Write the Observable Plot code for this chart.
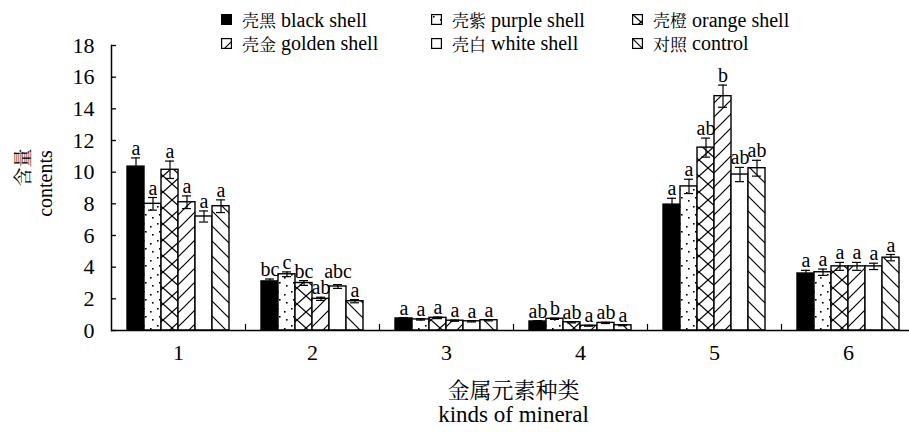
<!DOCTYPE html>
<html>
<head>
<meta charset="utf-8">
<script src="https://cdn.jsdelivr.net/npm/d3@7"></script>
<script src="https://cdn.jsdelivr.net/npm/@observablehq/plot@0.6"></script>
<style>
  html, body { margin: 0; padding: 0; background: #fff; overflow: hidden; }
  #wrap { position: relative; width: 909px; height: 432px; }
  #legend { position: absolute; left: 221px; top: 8px; display: grid;
            grid-template-columns: 210px 201px auto; grid-auto-rows: 23.5px; color: #000; }
  .item { display: flex; align-items: center; white-space: nowrap; line-height: 1; }
  .item svg { flex: none; margin-right: 10px; }
</style>
</head>
<body>
<div id="wrap">
  <div id="chart"></div>
  <div id="legend"></div>
</div>
<script>
// ---- data ----
const minerals = ["1", "2", "3", "4", "5", "6"];
const seriesKeys = ["black", "purple", "orange", "golden", "white", "control"];
const seriesCn = ["壳黑", "壳紫", "壳橙", "壳金", "壳白", "对照"];
const seriesEn = ["black shell", "purple shell", "orange shell", "golden shell", "white shell", "control"];
const seriesFill = ["#000", "url(#p-dots)", "url(#p-cross)", "url(#p-fwd)", "#fff", "url(#p-back)"];
const xTitleCn = "金属元素种类", xTitleEn = "kinds of mineral";
const yTitleCn = "含量", yTitleEn = "contents";

const blackVals   = [10.35, 3.10, 0.76, 0.57, 7.95, 3.60];
const purpleVals  = [8.00, 3.55, 0.70, 0.74, 9.10, 3.68];
const orangeVals  = [10.15, 3.00, 0.80, 0.52, 11.55, 4.05];
const goldenVals  = [8.10, 2.00, 0.62, 0.30, 14.80, 4.05];
const whiteVals   = [7.20, 2.78, 0.58, 0.48, 9.85, 4.05];
const controlVals = [7.85, 1.85, 0.65, 0.33, 10.25, 4.60];

const blackErr   = [0.55, 0.15, 0.05, 0.05, 0.40, 0.20];
const purpleErr  = [0.40, 0.15, 0.04, 0.04, 0.45, 0.20];
const orangeErr  = [0.55, 0.15, 0.05, 0.04, 0.60, 0.25];
const goldenErr  = [0.40, 0.10, 0.04, 0.03, 0.70, 0.25];
const whiteErr   = [0.35, 0.12, 0.04, 0.04, 0.45, 0.20];
const controlErr = [0.40, 0.10, 0.04, 0.03, 0.50, 0.20];

const blackSig   = ["a", "bc", "a", "ab", "a", "a"];
const purpleSig  = ["a", "c", "a", "b", "a", "a"];
const orangeSig  = ["a", "bc", "a", "ab", "ab", "a"];
const goldenSig  = ["a", "ab", "a", "a", "b", "a"];
const whiteSig   = ["a", "abc", "a", "ab", "ab", "a"];
const controlSig = ["a", "a", "a", "a", "ab", "a"];

const yTicks = [0, 2, 4, 6, 8, 10, 12, 14, 16, 18];

// ---- table ----
const vals = [blackVals, purpleVals, orangeVals, goldenVals, whiteVals, controlVals];
const errs = [blackErr, purpleErr, orangeErr, goldenErr, whiteErr, controlErr];
const sigs = [blackSig, purpleSig, orangeSig, goldenSig, whiteSig, controlSig];
const table = [];
seriesKeys.forEach((s, si) => minerals.forEach((m, mi) => {
  table.push({mineral: m, series: s, si, value: vals[si][mi], err: errs[si][mi], sig: sigs[si][mi]});
}));

const W = 909, H = 432, mL = 110, mR = -6, mT = 45, mB = 102;
const pxPerUnit = (H - mT - mB) / 18;
const stepPx = (W - mL - mR) / minerals.length / (seriesKeys.length + 1.5);
const sigFont = 20, charW = 0.45 * sigFont, textHUnits = 0.8 * sigFont / pxPerUnit;
minerals.forEach(m => {
  const row = table.filter(d => d.mineral === m).sort((a, b) => a.si - b.si);
  row.forEach((d, i) => {
    d.labelY = d.value + d.err;
    if (i > 0) {
      const p = row[i - 1];
      const gap = stepPx - (p.sig.length * charW + d.sig.length * charW) / 2;
      if (gap < -1 && Math.abs(d.labelY - p.labelY) < textHUnits) d.labelY = Math.max(d.labelY, p.labelY + textHUnits);
    }
  });
});

const barMarks = seriesKeys.map((s, si) =>
  Plot.barY(table.filter(d => d.series === s), {
    fx: "mineral", x: "series", y: "value",
    fill: seriesFill[si], stroke: "#000", strokeWidth: 1.4
  })
);

const serif = "'Liberation Serif', 'Times New Roman', serif";
const cjkSerif = "'Noto Serif CJK SC', 'Noto Sans CJK SC', serif";

const plot = Plot.plot({
  width: W,
  height: H,
  marginLeft: mL,
  marginRight: mR,
  marginTop: mT,
  marginBottom: mB,
  style: `font-family: ${serif}; color: #000; background: #fff;`,
  fx: {domain: minerals, padding: 0, label: null},
  x: {domain: seriesKeys, paddingInner: 0, paddingOuter: 0.75, axis: null},
  y: {domain: [0, 18], label: null},
  marks: [
    ...barMarks,
    Plot.ruleX(table, {fx: "mineral", x: "series", y1: d => d.value - d.err, y2: d => d.value + d.err, stroke: "#000", strokeWidth: 1.2}),
    Plot.tickY(table, {fx: "mineral", x: "series", y: d => d.value + d.err, insetLeft: 4, insetRight: 4, stroke: "#000", strokeWidth: 1.2}),
    Plot.tickY(table, {fx: "mineral", x: "series", y: d => d.value - d.err, insetLeft: 4, insetRight: 4, stroke: "#000", strokeWidth: 1.2}),
    Plot.text(table, {fx: "mineral", x: "series", y: "labelY", text: "sig", lineAnchor: "bottom", dy: -3, fontSize: sigFont, fill: "#000"}),
    Plot.ruleY([0], {stroke: "#000", strokeWidth: 1.5}),
    Plot.frame({anchor: "left", facetAnchor: "left", stroke: "#000", strokeWidth: 1.5}),
    Plot.frame({anchor: "right", insetTop: 279, stroke: "#000", strokeWidth: 1.2}),
    Plot.axisY({ticks: yTicks, tickSize: 5, dx: 5, fill: "none", stroke: "#000", strokeWidth: 1.3, label: null}),
    Plot.axisY({ticks: yTicks, tickSize: 0, tickPadding: 17, fontSize: 22, fill: "#000", label: null}),
    Plot.axisFx({anchor: "bottom", tickSize: 0, tickPadding: 14, fontSize: 22, fill: "#000", label: null})
  ]
});

const svg = d3.select(plot);
// hatch patterns used as bar fills, defined inside the chart's own SVG
const defs = svg.insert("defs", ":first-child");
function pattern(id, w, h, draw) {
  const p = defs.append("pattern").attr("id", id).attr("patternUnits", "userSpaceOnUse").attr("width", w).attr("height", h);
  p.append("rect").attr("width", w).attr("height", h).attr("fill", "#fff");
  draw(p);
}
pattern("p-dots", 14, 17, p => [[2, 2], [9, 5], [4, 10], [11, 13]].forEach(([x, y]) =>
  p.append("rect").attr("x", x).attr("y", y).attr("width", 1.6).attr("height", 1.6).attr("fill", "#000")));
pattern("p-cross", 18, 16, p => p.append("path").attr("d", "M0,0L18,16M18,0L0,16").attr("stroke", "#000").attr("stroke-width", 1.3));
pattern("p-fwd", 14, 14, p => p.append("path").attr("d", "M0,14L14,0M-3,3L3,-3M11,17L17,11").attr("stroke", "#000").attr("stroke-width", 1.2));
pattern("p-back", 15, 15, p => p.append("path").attr("d", "M0,0L15,15M-3,12L3,18M12,-3L18,3").attr("stroke", "#000").attr("stroke-width", 1.2));

// axis titles, placed from the plot's own scales
const fxs = plot.scale("fx"), ys = plot.scale("y");
const xMid = (fxs.range[0] + Math.min(fxs.range[1], W)) / 2 + 4;
const yMid = ys.apply(9);
const titles = svg.append("g").attr("fill", "#000");
titles.append("text").attr("x", xMid).attr("y", ys.apply(0) + 58).attr("text-anchor", "middle").attr("dominant-baseline", "central")
  .style("font-family", cjkSerif).style("font-size", "22px").text(xTitleCn);
titles.append("text").attr("x", xMid).attr("y", ys.apply(0) + 84).attr("text-anchor", "middle").attr("dominant-baseline", "central")
  .style("font-family", serif).style("font-size", "23px").text(xTitleEn);
titles.append("text").attr("transform", `translate(21,${yMid - 20}) rotate(-90)`).attr("text-anchor", "middle").attr("dominant-baseline", "central")
  .style("font-family", cjkSerif).style("font-size", "19px").text(yTitleCn);
titles.append("text").attr("transform", `translate(45,${yMid - 4}) rotate(-90)`).attr("text-anchor", "middle").attr("dominant-baseline", "central")
  .style("font-family", serif).style("font-size", "20px").text(yTitleEn);

document.getElementById("chart").appendChild(plot);

// ---- legend ----
const legend = document.getElementById("legend");
seriesKeys.forEach((s, si) => {
  const item = document.createElement("div");
  item.className = "item";
  item.innerHTML =
    `<svg width="11" height="11"><rect x="0.6" y="0.6" width="9.8" height="9.8" fill="${seriesFill[si]}" stroke="#000" stroke-width="1.2"/></svg>` +
    `<span style="font-family:'Noto Serif CJK SC','Noto Sans CJK SC',serif; font-size:17px; margin-right:5px">${seriesCn[si]}</span>` +
    `<span style="font-family:'Liberation Serif',serif; font-size:20px">${seriesEn[si]}</span>`;
  legend.appendChild(item);
});
</script>
</body>
</html>
